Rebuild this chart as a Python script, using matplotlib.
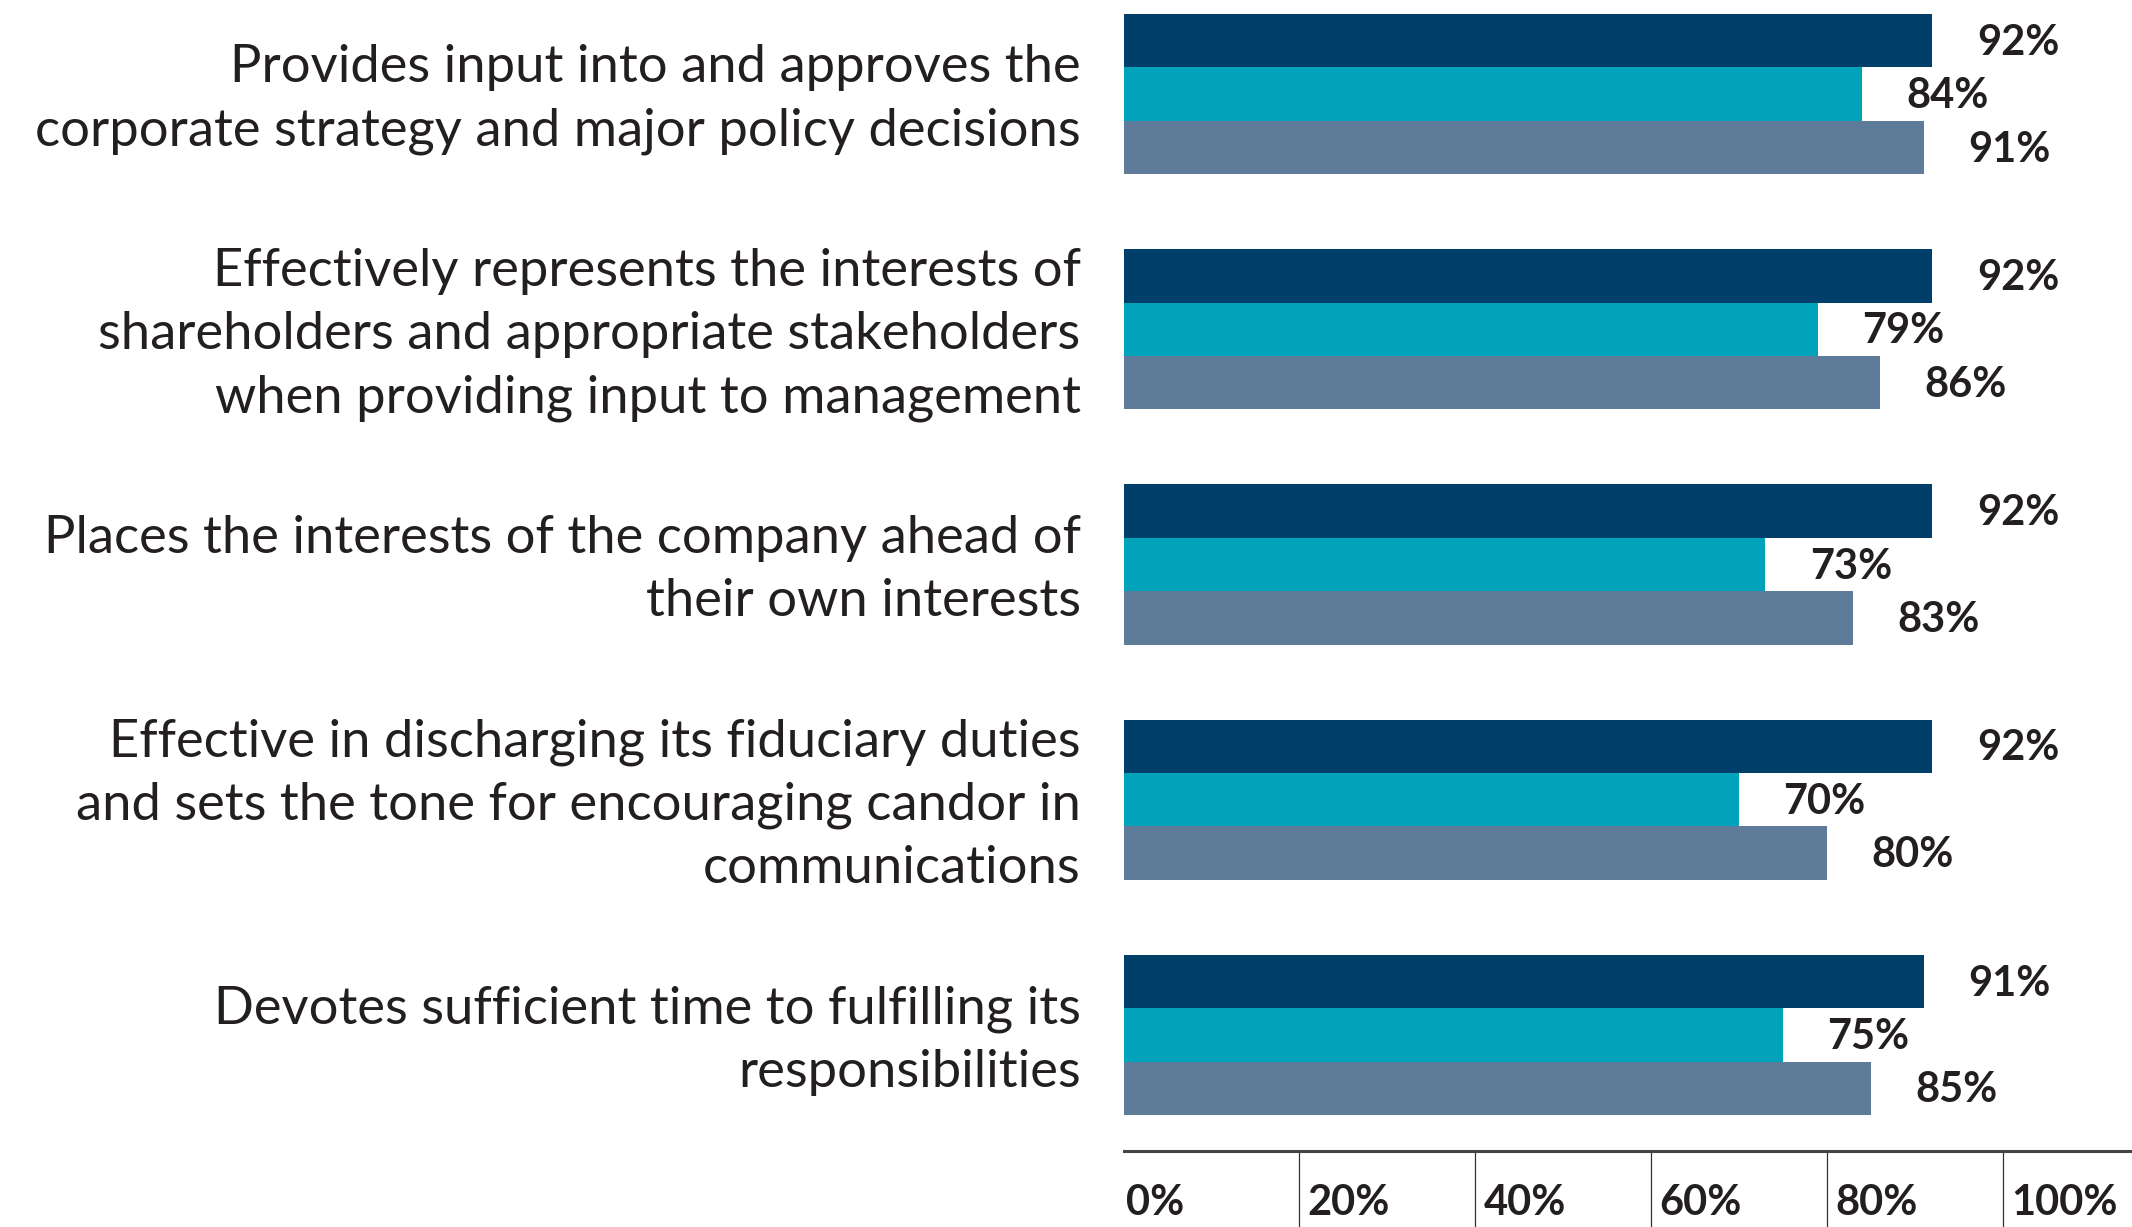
import matplotlib.pyplot as plt
import matplotlib.transforms as mtransforms
import numpy as np

categories = [
    "Provides input into and approves the\ncorporate strategy and major policy decisions",
    "Effectively represents the interests of\nshareholders and appropriate stakeholders\nwhen providing input to management",
    "Places the interests of the company ahead of\ntheir own interests",
    "Effective in discharging its fiduciary duties\nand sets the tone for encouraging candor in\ncommunications",
    "Devotes sufficient time to fulfilling its\nresponsibilities",
]
series_a = [92, 92, 92, 92, 91]
series_b = [84, 79, 73, 70, 75]
series_c = [91, 86, 83, 80, 85]
xticks = [0, 20, 40, 60, 80, 100]
xtick_labels = ['0%', '20%', '40%', '60%', '80%', '100%']

colors = ['#003F6A', '#00A3BA', '#5E7B9A']
text_color = '#231F20'

plt.rcParams['font.family'] = ['Lato', 'DejaVu Sans']

fig = plt.figure(figsize=(21.32, 12.27), dpi=100)
ax = fig.add_axes([0.527, 0.062, 0.473, 0.938])

pitch = 4.4
centers = np.arange(len(categories)) * pitch
for k, vals in enumerate([series_a, series_b, series_c]):
    y = centers + (k - 1)
    ax.barh(y, vals, height=1.0, color=colors[k], linewidth=0)
    for yy, v in zip(y, vals):
        ax.annotate(f'{v}%', (v, yy), xytext=(32, -1.5), textcoords='offset points',
                    ha='left', va='center', fontsize=30, fontweight='bold',
                    color=text_color)

ax.set_ylim(19.77, -1.76)
ax.set_xlim(0, 114.7)

ax.set_yticks(centers)
ax.set_yticklabels(categories, fontsize=37.8, color=text_color, linespacing=1.42,
                   ha='right', va='center')
ax.tick_params(axis='y', length=0, pad=31)
ydown = mtransforms.ScaledTranslation(0, -4 / 72, fig.dpi_scale_trans)
for lbl in ax.get_yticklabels():
    lbl.set_transform(lbl.get_transform() + ydown)

ax.set_xticks(xticks)
ax.set_xticklabels(xtick_labels, fontsize=30, fontweight='bold', color=text_color,
                   ha='left')
ax.tick_params(axis='x', direction='out', length=56, width=0.9, color='#333333', pad=-32)
ax.xaxis.get_major_ticks()[0].tick1line.set_visible(False)
for i, lbl in enumerate(ax.get_xticklabels()):
    dx = 1.5 if i == 0 else 6
    offset = mtransforms.ScaledTranslation(dx / 72, 0, fig.dpi_scale_trans)
    lbl.set_transform(lbl.get_transform() + offset)

for side in ['top', 'right', 'left']:
    ax.spines[side].set_visible(False)
ax.spines['bottom'].set_linewidth(2.2)
ax.spines['bottom'].set_color('#444444')

fig.savefig('out.png', dpi=100)
